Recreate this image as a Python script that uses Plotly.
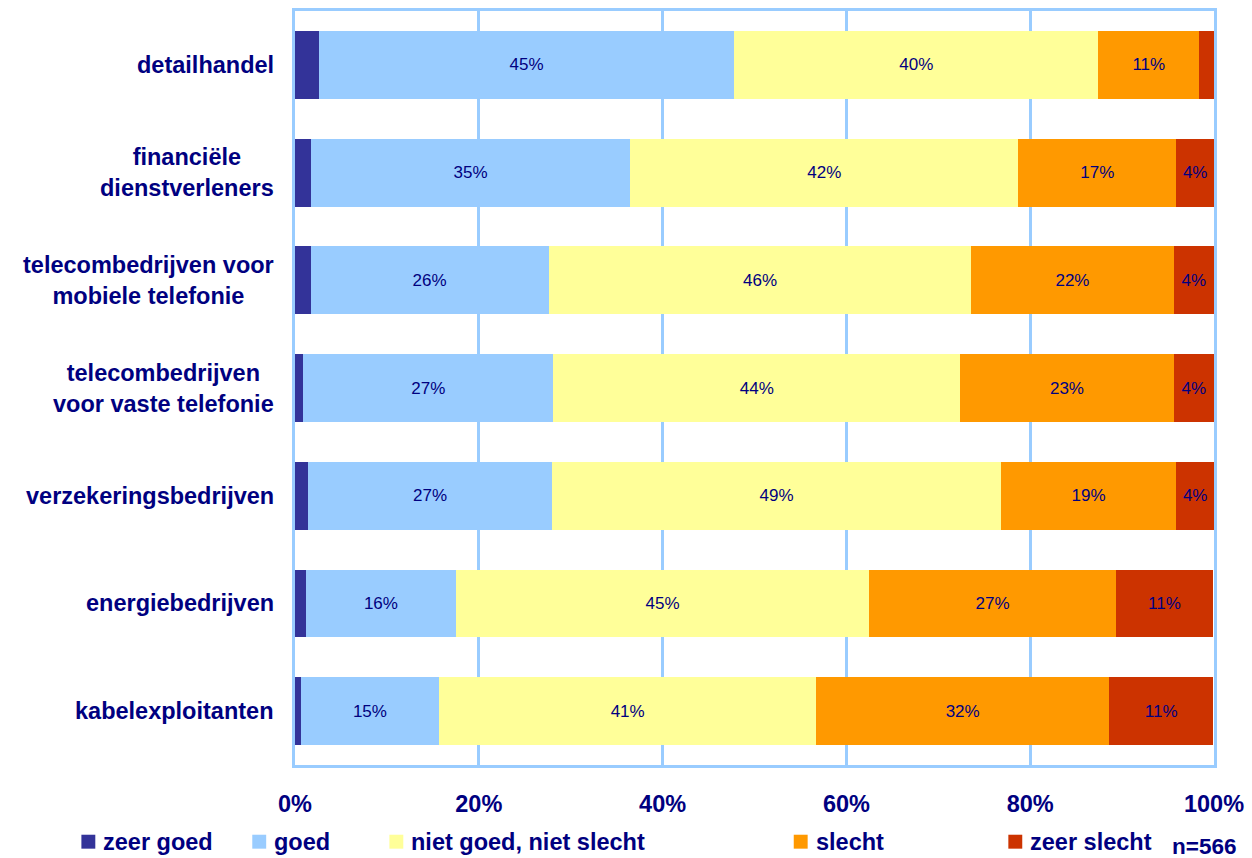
import plotly.graph_objects as go

# Sectors (top to bottom) and answer categories
categories = [
    "detailhandel",
    "financiële<br>dienstverleners",
    "telecombedrijven voor<br>mobiele telefonie",
    "telecombedrijven<br>voor vaste telefonie",
    "verzekeringsbedrijven",
    "energiebedrijven",
    "kabelexploitanten",
]
series_names = ["zeer goed", "goed", "niet goed, niet slecht", "slecht", "zeer slecht"]

# Share of respondents per answer (%)
zeer_goed = [2.6, 1.7, 1.7, 0.9, 1.4, 1.2, 0.6]
goed = [45.2, 34.8, 25.9, 27.2, 26.6, 16.3, 15.1]
niet_goed_niet_slecht = [39.6, 42.2, 46.0, 44.3, 48.8, 45.0, 41.0]
slecht = [11.0, 17.2, 22.0, 23.2, 19.1, 26.8, 31.9]
zeer_slecht = [1.6, 4.1, 4.4, 4.4, 4.1, 10.6, 11.3]

tick_values = [0, 20, 40, 60, 80, 100]
tick_labels = ["0%", "20%", "40%", "60%", "80%", "100%"]
sample_note = "n=566"

series_values = [zeer_goed, goed, niet_goed_niet_slecht, slecht, zeer_slecht]
colors = ["#333399", "#99ccff", "#ffff99", "#ff9900", "#cc3300"]
show_labels = [False, True, True, True, True]

NAVY = "#000080"
GRID = "#99ccff"
FONT = "Liberation Sans, Arial, Helvetica, sans-serif"
BOLD_SIZE = 23.5

W, H = 1252, 858
M_L, M_R, M_T, M_B = 295, 32, 8, 93
PLOT_W = W - M_L - M_R
PLOT_H = H - M_T - M_B


def px_x(px):
    return (px - M_L) / PLOT_W


def px_y(py):
    return (H - M_B - py) / PLOT_H


fig = go.Figure()
for name, vals, col, lab in zip(series_names, series_values, colors, show_labels):
    texts = [f"{v:.0f}%" if (lab and v >= 3) else "" for v in vals]
    fig.add_trace(go.Bar(
        y=categories, x=vals, name=name, orientation="h",
        marker=dict(color=col, line=dict(width=0)),
        text=texts, textposition="inside", insidetextanchor="middle",
        textangle=0, constraintext="none",
        textfont=dict(family=FONT, size=17, color=NAVY),
        hoverinfo="skip", showlegend=False,
    ))

fig.update_layout(
    barmode="stack", bargap=0.37,
    width=W, height=H,
    margin=dict(l=M_L, r=M_R, t=M_T, b=M_B, pad=0),
    paper_bgcolor="white", plot_bgcolor="white",
    font=dict(family=FONT, color=NAVY),
)
fig.update_xaxes(
    range=[0, 100], tickvals=tick_values, ticktext=tick_labels,
    showgrid=True, gridcolor=GRID, gridwidth=3,
    showline=True, linecolor=GRID, linewidth=3, mirror=True,
    ticks="outside", ticklen=16, tickcolor="rgba(0,0,0,0)",
    tickfont=dict(family=FONT, size=BOLD_SIZE, color=NAVY, weight="bold"),
    zeroline=False, fixedrange=True,
)
fig.update_yaxes(
    categoryorder="array", categoryarray=categories, autorange="reversed",
    showticklabels=False, showgrid=False,
    showline=True, linecolor=GRID, linewidth=3, mirror=True,
    fixedrange=True,
)

# Category labels: block right-aligned beside the axis, lines centred
for cat in categories:
    fig.add_annotation(
        x=px_x(276), xref="paper", y=cat, yref="y",
        text=cat, showarrow=False, xanchor="right", yanchor="middle",
        align="center",
        font=dict(family=FONT, size=BOLD_SIZE, color=NAVY, weight="bold"),
    )

# Legend row below the axis
swatch_left = [80, 252, 390, 797, 1013]
legend_y = 842
for name, col, sx in zip(series_names, colors, swatch_left):
    fig.add_shape(
        type="rect", xref="paper", yref="paper",
        x0=px_x(sx), x1=px_x(sx + 14),
        y0=px_y(legend_y + 7), y1=px_y(legend_y - 7),
        fillcolor=col, line=dict(width=0),
    )
    fig.add_annotation(
        x=px_x(sx + 20), xref="paper", y=px_y(legend_y), yref="paper",
        text=name, showarrow=False, xanchor="left", yanchor="middle",
        font=dict(family=FONT, size=BOLD_SIZE, color=NAVY, weight="bold"),
    )

fig.add_annotation(
    x=px_x(1176), xref="paper", y=px_y(847), yref="paper",
    text=sample_note, showarrow=False, xanchor="left", yanchor="middle",
    font=dict(family=FONT, size=22.5, color=NAVY, weight="bold"),
)

fig.write_html("out.html")
